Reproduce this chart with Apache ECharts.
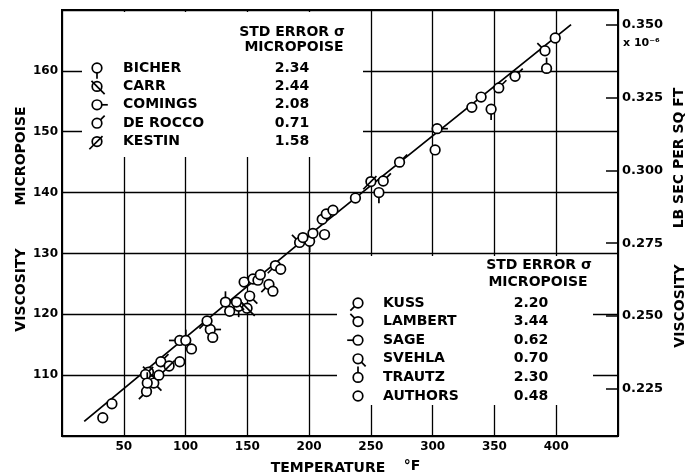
<!DOCTYPE html>
<html>
<head>
<meta charset="utf-8">
<script src="https://cdn.jsdelivr.net/npm/echarts@6/dist/echarts.min.js"></script>
<style>html,body{margin:0;padding:0;background:#fff}#c{width:687px;height:476px}</style>
</head>
<body>
<div id="c"></div>
<script>
// ---- data (temperature °F, viscosity micropoise) ----
const bicher  = [[143,121.3],[200.4,132.0],[256.5,140.0],[347.3,153.7]];
const carr    = [[70,110.5],[149.8,121.0]];
const comings = [[120,117.5],[303.6,150.5]];
const deRocco = [[67.6,110.1],[80,112.2],[147.4,125.3],[210.6,135.6],[260,141.9],[273.2,145.0],[353.5,157.2],[366.7,159.1]];
const kestin  = [[86.7,111.5],[250,141.8]];
const kuss    = [[68.4,107.3],[117.4,118.9],[167.5,124.9],[172.7,128.0]];
const lambert = [[192.3,131.8],[390.9,163.3]];
const sage    = [[95.3,115.7]];
const svehla  = [[74.3,108.7],[141.2,122.0],[151.9,123.0]];
const trautz  = [[69,108.7],[100.2,115.7],[132.3,122.0],[392.2,160.4]];
const authors = [[33,103.0],[40.4,105.3],[78.4,110.0],[95.3,112.2],[104.8,114.3],[122,116.2],[135.7,120.5],[154.6,125.8],[158.6,125.6],[160.5,126.5],[170.7,123.8],[177,127.4],[195,132.6],[203.1,133.3],[212.5,133.1],[213.9,136.5],[219.3,137.1],[237.5,139.1],[302,147.0],[331.7,154.0],[339.2,155.7],[399.2,165.4]];
const fitLine = [[18,102.4],[200,133.0],[412,167.6]];

const legendTopNames = ['BICHER','CARR','COMINGS','DE ROCCO','KESTIN'];
const legendTopErr   = ['2.34','2.44','2.08','0.71','1.58'];
const legendBotNames = ['KUSS','LAMBERT','SAGE','SVEHLA','TRAUTZ','AUTHORS'];
const legendBotErr   = ['2.20','3.44','0.62','0.70','2.30','0.48'];
const rightTicks = [0.225,0.250,0.275,0.300,0.325,0.350];
const MICRO_TO_LB = 0.0020885; // micropoise -> 1e-6 lb sec / sq ft

// ---- marker styles: tail direction (screen coords) and whether the stroke crosses the circle ----
const SPEC = {
  'BICHER':[0,1,false], 'CARR':[1,1,true], 'COMINGS':[1,0,false], 'DE ROCCO':[1,-1,false],
  'KESTIN':[-1,1,true], 'KUSS':[-1,1,false], 'LAMBERT':[-1,-1,false], 'SAGE':[-1,0,false],
  'SVEHLA':[1,1,false], 'TRAUTZ':[0,-1,false], 'AUTHORS':null
};
function markerShapes(kind, cx, cy, z) {
  const r = 4.8, L = 6, lw = 1.7;
  const out = [{type:'circle', z:z, shape:{cx:cx, cy:cy, r:r}, style:{fill:'#fff', stroke:'#000', lineWidth:lw}}];
  const sp = SPEC[kind];
  if (sp) {
    const n = Math.hypot(sp[0], sp[1]); const ux = sp[0]/n, uy = sp[1]/n;
    const s = sp[2] ? -(r+3) : r, e = r + L;
    out.push({type:'line', z:z, shape:{x1:cx+ux*s, y1:cy+uy*s, x2:cx+ux*e, y2:cy+uy*e}, style:{stroke:'#000', lineWidth:lw}});
  }
  return out;
}

const seriesDefs = [
  ['BICHER',bicher],['CARR',carr],['COMINGS',comings],['DE ROCCO',deRocco],['KESTIN',kestin],
  ['KUSS',kuss],['LAMBERT',lambert],['SAGE',sage],['SVEHLA',svehla],['TRAUTZ',trautz],['AUTHORS',authors]
];

const FONT_T = 'bold 14px "DejaVu Sans"';
const graphics = [];
// blank panels behind the two key tables
graphics.push({type:'rect', z:1, shape:{x:82, y:12, width:281, height:145}, style:{fill:'#fff'}});
graphics.push({type:'rect', z:1, shape:{x:337, y:256, width:256, height:149}, style:{fill:'#fff'}});
function txt(t, x, y, align, font, rot) {
  graphics.push({type:'text', z:6, x:x, y:y, rotation:rot||0,
    style:{text:t, font:font||FONT_T, fill:'#000', align:align||'left', verticalAlign:'middle'}});
}
// top-left key
txt('STD ERROR σ', 292, 32, 'center');
txt('MICROPOISE', 294, 47, 'center');
legendTopNames.forEach((nm,i)=>{
  const y = 68 + i*18.4;
  markerShapes(nm, 97, y, 6).forEach(s=>graphics.push(s));
  txt(nm, 123, y, 'left');
  txt(legendTopErr[i], 292, y, 'center');
});
// bottom-right key
txt('STD ERROR σ', 539, 265, 'center');
txt('MICROPOISE', 538, 282, 'center');
legendBotNames.forEach((nm,i)=>{
  const y = 303 + i*18.6;
  markerShapes(nm, 358, y, 6).forEach(s=>graphics.push(s));
  txt(nm, 383, y, 'left');
  txt(legendBotErr[i], 531, y, 'center');
});
// axis titles
txt('MICROPOISE', 21, 156, 'center', FONT_T, Math.PI/2);
txt('VISCOSITY', 21, 290, 'center', FONT_T, Math.PI/2);
txt('LB SEC PER SQ FT', 679, 158, 'center', FONT_T, Math.PI/2);
txt('VISCOSITY', 680, 306, 'center', FONT_T, Math.PI/2);
txt('TEMPERATURE', 328, 468, 'center');
txt('°F', 412, 466, 'center');
txt('x 10⁻⁶', 623, 43, 'left', 'bold 11px "DejaVu Sans"');

const series = [{
  type:'line', data:fitLine, showSymbol:false, symbol:'none', z:3, silent:true,
  lineStyle:{color:'#000', width:1.8}, xAxisIndex:0, yAxisIndex:0
}];
seriesDefs.forEach(([nm, arr])=>{
  series.push({
    type:'custom', name:nm, data:arr, z:4, xAxisIndex:0, yAxisIndex:0,
    encode:{x:0, y:1},
    renderItem:(params, api)=>{
      const p = api.coord([api.value(0), api.value(1)]);
      return {type:'group', children: markerShapes(nm, p[0], p[1], 0)};
    }
  });
});

const chart = echarts.init(document.getElementById('c'), null, {renderer:'canvas'});
chart.setOption({
  animation:false,
  backgroundColor:'#fff',
  grid:{left:62, right:69, top:10, bottom:40, show:true, borderColor:'#000', borderWidth:2, backgroundColor:'transparent'},
  xAxis:{type:'value', min:0, max:450, interval:50,
    axisLine:{show:true, lineStyle:{color:'#000', width:2}}, axisTick:{show:false},
    splitLine:{show:true, lineStyle:{color:'#000', width:1.3}},
    axisLabel:{margin:5, color:'#000', fontWeight:'bold', fontSize:12, fontFamily:'DejaVu Sans',
      formatter:v=> (v===0||v===450)?'':String(v)}},
  yAxis:[
    {type:'value', min:100, max:170, interval:10, position:'left',
      axisLine:{show:true, lineStyle:{color:'#000', width:2}}, axisTick:{show:false},
      splitLine:{show:true, lineStyle:{color:'#000', width:1.3}},
      axisLabel:{margin:4, color:'#000', fontWeight:'bold', fontSize:12, fontFamily:'DejaVu Sans',
        formatter:v=> (v===100||v===170)?'':String(v)}},
    {type:'value', min:100*MICRO_TO_LB, max:170*MICRO_TO_LB, position:'right',
      axisLine:{show:true, lineStyle:{color:'#000', width:2}},
      axisTick:{show:true, inside:true, length:12, customValues:rightTicks, lineStyle:{color:'#000', width:1.5}},
      splitLine:{show:false},
      axisLabel:{margin:4, color:'#000', fontWeight:'bold', fontSize:13, fontFamily:'DejaVu Sans', customValues:rightTicks,
        formatter:v=> v.toFixed(3)}}
  ],
  graphic:{elements:graphics},
  series:series
});
</script>
</body>
</html>
